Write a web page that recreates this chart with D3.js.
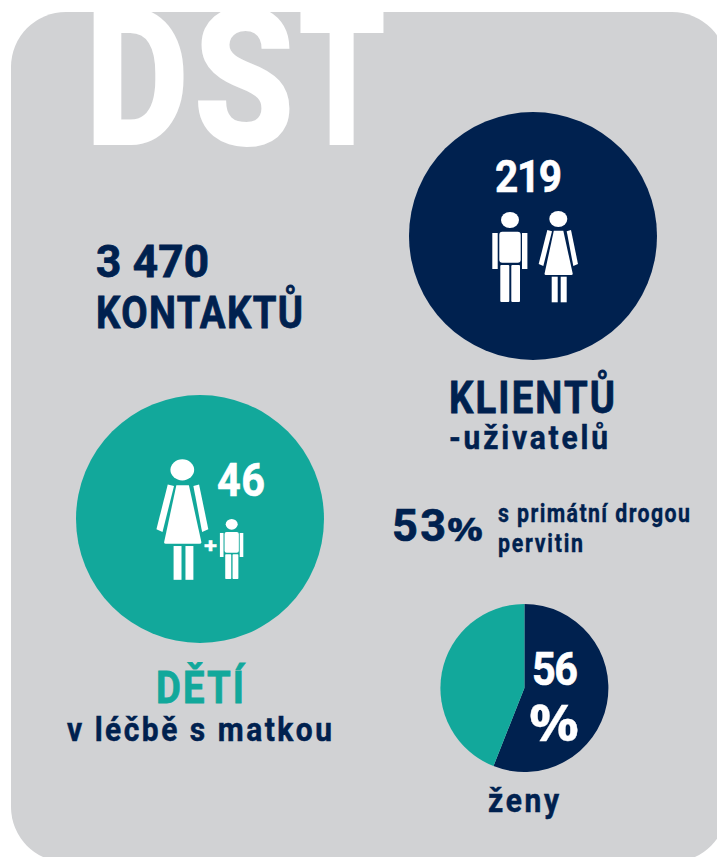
<!DOCTYPE html>
<html><head><meta charset="utf-8">
<script src="https://cdn.jsdelivr.net/npm/d3@7"></script>
<style>html,body{margin:0;background:#fff}svg{display:block}text{font-family:Roboto,sans-serif;font-weight:700;paint-order:stroke}</style>
</head><body><svg id="c" width="717" height="857"></svg>
<script>
const navy="#00214f",teal="#12a89b",grey="#d1d2d4";
const clients=219, children=46;
const womenShare=[{k:"ženy",v:56},{k:"muži",v:44}];
const titleGlyphs=[{t:"D",x:85,w:104},{t:"S",x:193,w:102},{t:"T",x:298,w:88}];
const labels=[
 {t:"3 470",x:96,y:277,w:113,s:45,c:navy,k:.98,sw:.8},
 {t:"KONTAKTŮ",x:96,y:328,w:207,s:45,c:navy,k:.85,sw:.8},
 {t:String(clients),x:495,y:192,w:67,s:45,c:"#fff",k:.9,sw:.6},
 {t:"KLIENTŮ",x:449,y:413,w:166,s:45,c:navy,k:.85,sw:.8},
 {t:"-uživatelů",x:449,y:449,w:159,s:34,c:navy,k:.88,sw:.5},
 {t:"53",x:392,y:541,w:54,s:45,c:navy,k:1,sw:.7},
 {t:"%",x:447,y:541,w:36,s:33,c:navy,k:1,sw:.3,f:"Open Sans"},
 {t:"s primátní drogou",x:498,y:522,w:192,s:26,c:navy,k:.82,sw:.4},
 {t:"pervitin",x:498,y:552,w:85,s:26,c:navy,k:.82,sw:.4},
 {t:"56",x:532,y:685,w:46,s:46,c:"#fff",k:.9,sw:.6},
 {t:"%",x:529,y:741,w:50,s:50,c:"#fff",k:1,sw:.3,f:"Open Sans"},
 {t:"ženy",x:488,y:812,w:71,s:34,c:navy,k:.88,sw:.5},
 {t:String(children),x:217,y:496,w:48,s:46,c:"#fff",k:.9,sw:.6},
 {t:"+",x:204,y:553,w:13,s:20,c:"#fff",k:1,sw:.3},
 {t:"DĚTÍ",x:156,y:703,w:88,s:45,c:teal,k:.85,sw:.8},
 {t:"v léčbě s matkou",x:67,y:741,w:265,s:34,c:navy,k:.88,sw:.5}
];
const svg=d3.select("#c");
const r0=55,L=11,T=12,R=727,B=862;
const panel=d3.path();
panel.moveTo(L+r0,T);panel.lineTo(R-r0,T);panel.arcTo(R,T,R,T+r0,r0);panel.lineTo(R,B-r0);
panel.arcTo(R,B,R-r0,B,r0);panel.lineTo(L+r0,B);panel.arcTo(L,B,L,B-r0,r0);panel.lineTo(L,T+r0);panel.arcTo(L,T,L+r0,T,r0);panel.closePath();
svg.append("path").attr("d",panel.toString()).attr("fill",grey);

svg.append("circle").attr("cx",533).attr("cy",236).attr("r",124).attr("fill",navy);
svg.append("circle").attr("cx",200).attr("cy",519).attr("r",124).attr("fill",teal);

const pie=d3.pie().sort(null).value(d=>d.v);
const arc=d3.arc().innerRadius(0).outerRadius(84);
svg.append("g").attr("transform","translate(524.4,688)").selectAll("path").data(pie(womenShare)).join("path")
 .attr("d",arc).attr("fill",(d,i)=>i?teal:navy);

function man(g){
 g.append("ellipse").attr("cx",0).attr("cy",9).attr("rx",9).attr("ry",8);
 g.append("rect").attr("x",-10.7).attr("y",20.7).attr("width",21.4).attr("height",31).attr("rx",3);
 g.append("rect").attr("x",-17.7).attr("y",22).attr("width",5.4).attr("height",36);
 g.append("rect").attr("x",12).attr("y",22).attr("width",5.4).attr("height",36);
 g.append("rect").attr("x",-9.7).attr("y",54).attr("width",9).attr("height",37).attr("rx",1);
 g.append("rect").attr("x",1.3).attr("y",54).attr("width",8.7).attr("height",37).attr("rx",1);
}
function woman(g){
 g.append("ellipse").attr("cx",0).attr("cy",8).attr("rx",9).attr("ry",8);
 g.append("path").attr("d","M-4.5,19.7L5,19.7L14.4,62.5Q14.6,64 13,64L-12.5,64Q-14,64 -13.7,62.5Z");
 g.append("path").attr("d","M-11,19L-6.3,20.3L-15,55L-19.6,53Z");
 g.append("path").attr("d","M8.4,20.3L12.7,19L19.7,53L15,55Z");
 g.append("rect").attr("x",-6.6).attr("y",65.7).attr("width",6).attr("height",25.6);
 g.append("rect").attr("x",2.4).attr("y",65.7).attr("width",6).attr("height",25.6);
}
const icon=(fn,x,y,k)=>{const g=svg.append("g").attr("fill","#fff").attr("transform",`translate(${x},${y}) scale(${k})`);fn(g);};
icon(man,510,211,1);
icon(woman,558.3,211,1);
icon(woman,182.3,459.3,1.32);
icon(man,231.7,518.3,0.667);

svg.append("text").attr("y",145).attr("font-size",193).attr("fill","#fff").style("font-weight",900)
 .selectAll("tspan").data(titleGlyphs).join("tspan")
 .attr("x",d=>d.x).attr("textLength",d=>d.w).attr("lengthAdjust","spacingAndGlyphs").text(d=>d.t);

svg.selectAll("text.l").data(labels).join("text").attr("class","l")
 .attr("transform",d=>`translate(${d.x},${d.y}) scale(${d.k},1)`)
 .attr("font-size",d=>d.s).attr("fill",d=>d.c).attr("stroke",d=>d.c).attr("stroke-width",d=>d.sw)
 .style("font-family",d=>d.f||null)
 .attr("textLength",d=>d.w/d.k).attr("lengthAdjust",d=>d.t.length>1?"spacing":"spacingAndGlyphs").text(d=>d.t);
</script></body></html>
